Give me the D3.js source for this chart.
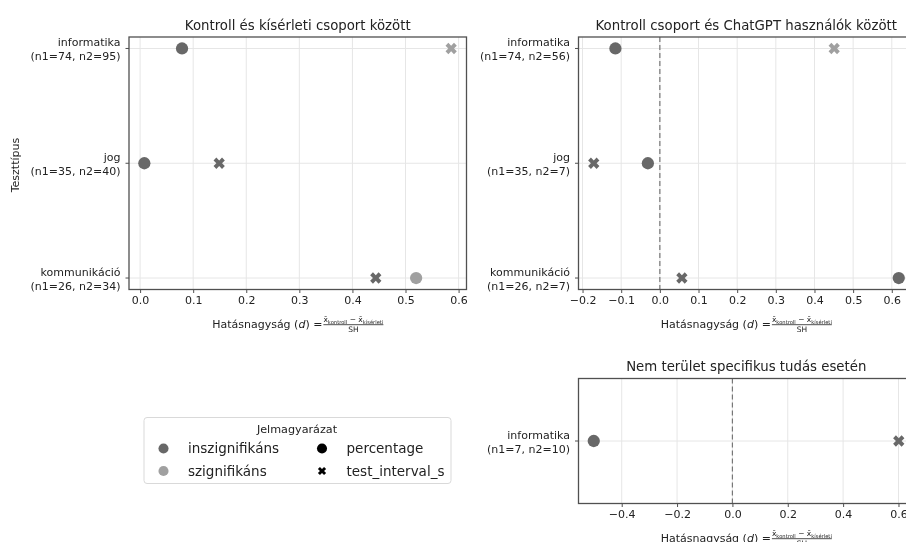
<!DOCTYPE html>
<html>
<head>
<meta charset="utf-8">
<script src="https://cdn.jsdelivr.net/npm/d3@7"></script>
<style>
  html, body { margin: 0; padding: 0; background: #fff; }
  svg { display: block; font-family: "DejaVu Sans", sans-serif; filter: blur(0.4px); }
</style>
</head>
<body>
<svg id="chart" width="906" height="542"></svg>
<script>
// ---- Data ----
const categories = ["informatika", "jog", "kommunikáció"];

// Kontroll és kísérleti csoport
const groupSizes1 = ["(n1=74, n2=95)", "(n1=35, n2=40)", "(n1=26, n2=34)"];
const percentage1 = [0.079, 0.008, 0.520];
const percentageSig1 = [false, false, true];
const interval1 = [0.586, 0.149, 0.444];
const intervalSig1 = [true, false, false];

// Kontroll csoport és ChatGPT használók
const groupSizes2 = ["(n1=74, n2=56)", "(n1=35, n2=7)", "(n1=26, n2=7)"];
const percentage2 = [-0.115, -0.031, 0.618];
const percentageSig2 = [false, false, false];
const interval2 = [0.451, -0.171, 0.057];
const intervalSig2 = [true, false, false];

// Nem terület specifikus tudás
const categories3 = ["informatika"];
const groupSizes3 = ["(n1=7, n2=10)"];
const percentage3 = [-0.501];
const percentageSig3 = [false];
const interval3 = [0.601];
const intervalSig3 = [false];

const ticks1 = [0.0, 0.1, 0.2, 0.3, 0.4, 0.5, 0.6];
const ticks2 = [-0.2, -0.1, 0.0, 0.1, 0.2, 0.3, 0.4, 0.5, 0.6];
const ticks3 = [-0.4, -0.2, 0.0, 0.2, 0.4, 0.6];

const legendColors = ["inszignifikáns", "szignifikáns"];
const legendShapes = ["percentage", "test_interval_s"];

// ---- Styling ----
const COL_INSIG = "#686868";
const COL_SIG = "#a0a0a0";
const TEXT = "#222";
const SPINE = "#505050";
const GRID = "#e6e6e6";

const svg = d3.select("#chart");

const crossPath = d3.symbol().type(d3.symbolCross).size(80)();
const circlePath = d3.symbol().type(d3.symbolCircle).size(118)();

function extentWithMargin(values) {
  const [lo, hi] = d3.extent(values);
  const m = (hi - lo) * 0.05;
  return [lo - m, hi + m];
}

function panel(opts) {
  const { left, right, top, bottom, title, cats, sizes, pct, pctSig, itv, itvSig, ticks, zeroLine, fmt } = opts;
  const g = svg.append("g");

  const x = d3.scaleLinear().domain(extentWithMargin(pct.concat(itv))).range([left, right]);
  const y = cats.length > 1
    ? d3.scaleLinear().domain([-0.1, cats.length - 0.9]).range([top, bottom])
    : d3.scaleLinear().domain([-1, 1]).range([top, bottom]);

  // grid
  g.append("g").selectAll("line").data(ticks).join("line")
    .attr("x1", d => x(d)).attr("x2", d => x(d))
    .attr("y1", top).attr("y2", bottom)
    .attr("stroke", GRID).attr("stroke-width", 1);
  g.append("g").selectAll("line").data(cats).join("line")
    .attr("x1", left).attr("x2", right)
    .attr("y1", (d, i) => y(i)).attr("y2", (d, i) => y(i))
    .attr("stroke", GRID).attr("stroke-width", 1);

  if (zeroLine) {
    g.append("line")
      .attr("x1", x(0)).attr("x2", x(0)).attr("y1", top).attr("y2", bottom)
      .attr("stroke", "#777").attr("stroke-width", 1.2)
      .attr("stroke-dasharray", "5,3");
  }

  // x axis
  const xAxis = d3.axisBottom(x).tickValues(ticks).tickSize(3.5).tickPadding(3)
    .tickFormat(d => d3.format(fmt)(d).replace("-", "\u2212"));
  const xa = g.append("g").attr("transform", `translate(0,${bottom})`).call(xAxis);
  xa.select(".domain").remove();
  xa.selectAll(".tick line").attr("stroke", SPINE);
  xa.selectAll(".tick text").attr("fill", TEXT).attr("font-size", 11)
    .attr("font-family", "DejaVu Sans");

  // y ticks + two-line labels
  const ya = g.append("g");
  cats.forEach((c, i) => {
    ya.append("line").attr("x1", left - 3.5).attr("x2", left)
      .attr("y1", y(i)).attr("y2", y(i)).attr("stroke", SPINE);
    const t = ya.append("text").attr("text-anchor", "end").attr("fill", TEXT)
      .attr("font-size", 11).attr("x", left - 8.5);
    t.append("tspan").attr("x", left - 8.5).attr("y", y(i) - 2).text(c);
    t.append("tspan").attr("x", left - 8.5).attr("y", y(i) + 11.5).text(sizes[i]);
  });

  // frame
  g.append("rect").attr("x", left).attr("y", top)
    .attr("width", right - left).attr("height", bottom - top)
    .attr("fill", "none").attr("stroke", SPINE).attr("stroke-width", 1.3);

  // markers
  g.append("g").selectAll("path").data(pct).join("path")
    .attr("d", circlePath)
    .attr("transform", (d, i) => `translate(${x(d)},${y(i)})`)
    .attr("fill", (d, i) => pctSig[i] ? COL_SIG : COL_INSIG);
  g.append("g").selectAll("path").data(itv).join("path")
    .attr("d", crossPath)
    .attr("transform", (d, i) => `translate(${x(d)},${y(i)}) rotate(45)`)
    .attr("fill", (d, i) => itvSig[i] ? COL_SIG : COL_INSIG);

  // title
  g.append("text").attr("x", (left + right) / 2).attr("y", top - 7.5)
    .attr("text-anchor", "middle").attr("fill", TEXT).attr("font-size", 13.3)
    .text(title);

  // x label with fraction
  const cx = (left + right) / 2;
  const lab = g.append("g");
  const main = lab.append("text").attr("x", 0).attr("y", 0).attr("fill", TEXT).attr("font-size", 11);
  main.append("tspan").text("Hatásnagyság (");
  main.append("tspan").attr("font-style", "italic").text("d");
  main.append("tspan").text(") = ");
  const w1 = main.node().getComputedTextLength();
  const num = lab.append("text").attr("y", -6).attr("fill", TEXT).attr("font-size", 7.5)
    .attr("text-anchor", "middle");
  num.append("tspan").text("x\u0304");
  num.append("tspan").attr("font-size", 5.2).attr("dy", 1.5).text("kontroll");
  num.append("tspan").attr("dy", -1.5).text(" \u2212 ");
  num.append("tspan").text("x\u0304");
  num.append("tspan").attr("font-size", 5.2).attr("dy", 1.5).text("kísérleti");
  const wn = num.node().getComputedTextLength();
  const fx = w1 + 1 + wn / 2;
  num.attr("x", fx);
  lab.append("line").attr("x1", w1 + 1).attr("x2", w1 + 1 + wn)
    .attr("y1", -3.3).attr("y2", -3.3).attr("stroke", TEXT).attr("stroke-width", 0.8);
  lab.append("text").attr("x", fx).attr("y", 4).attr("text-anchor", "middle")
    .attr("fill", TEXT).attr("font-size", 7.5).text("SH");
  const total = w1 + 1 + wn;
  lab.attr("transform", `translate(${cx - total / 2},${bottom + 38.5})`);
}

panel({ left: 129, right: 466.5, top: 37, bottom: 289.5,
  title: "Kontroll és kísérleti csoport között",
  cats: categories, sizes: groupSizes1,
  pct: percentage1, pctSig: percentageSig1, itv: interval1, itvSig: intervalSig1,
  ticks: ticks1, zeroLine: false, fmt: ".1f" });

panel({ left: 578.5, right: 914, top: 37, bottom: 289.5,
  title: "Kontroll csoport és ChatGPT használók között",
  cats: categories, sizes: groupSizes2,
  pct: percentage2, pctSig: percentageSig2, itv: interval2, itvSig: intervalSig2,
  ticks: ticks2, zeroLine: true, fmt: ".1f" });

panel({ left: 578.5, right: 914, top: 378.5, bottom: 503.5,
  title: "Nem terület specifikus tudás esetén",
  cats: categories3, sizes: groupSizes3,
  pct: percentage3, pctSig: percentageSig3, itv: interval3, itvSig: intervalSig3,
  ticks: ticks3, zeroLine: true, fmt: ".1f" });

// shared y-axis title
svg.append("text").attr("transform", "translate(19,165) rotate(-90)")
  .attr("text-anchor", "middle").attr("fill", TEXT).attr("font-size", 11)
  .text("Teszttípus");

// ---- Legend ----
const lg = svg.append("g").attr("transform", "translate(144,417.5)");
lg.append("rect").attr("width", 307).attr("height", 66).attr("rx", 3)
  .attr("fill", "#fff").attr("stroke", "#d9d9d9").attr("stroke-width", 1);
lg.append("text").attr("x", 153).attr("y", 15.5).attr("text-anchor", "middle")
  .attr("fill", TEXT).attr("font-size", 11.2).text("Jelmagyarázat");

const legendSwatch = [COL_INSIG, COL_SIG];
legendColors.forEach((label, i) => {
  const yy = 31 + i * 22.5;
  lg.append("path").attr("d", d3.symbol().type(d3.symbolCircle).size(80)())
    .attr("transform", `translate(19.5,${yy})`).attr("fill", legendSwatch[i]);
  lg.append("text").attr("x", 44).attr("y", yy + 4.8).attr("fill", TEXT)
    .attr("font-size", 13.5).text(label);
});
legendShapes.forEach((label, i) => {
  const yy = 31 + i * 22.5;
  const p = i === 0
    ? d3.symbol().type(d3.symbolCircle).size(80)()
    : d3.symbol().type(d3.symbolCross).size(42)();
  lg.append("path").attr("d", p)
    .attr("transform", `translate(178,${yy})${i === 1 ? " rotate(45)" : ""}`)
    .attr("fill", "#000");
  lg.append("text").attr("x", 202.5).attr("y", yy + 4.8).attr("fill", TEXT)
    .attr("font-size", 13.5).text(label);
});
</script>
</body>
</html>
